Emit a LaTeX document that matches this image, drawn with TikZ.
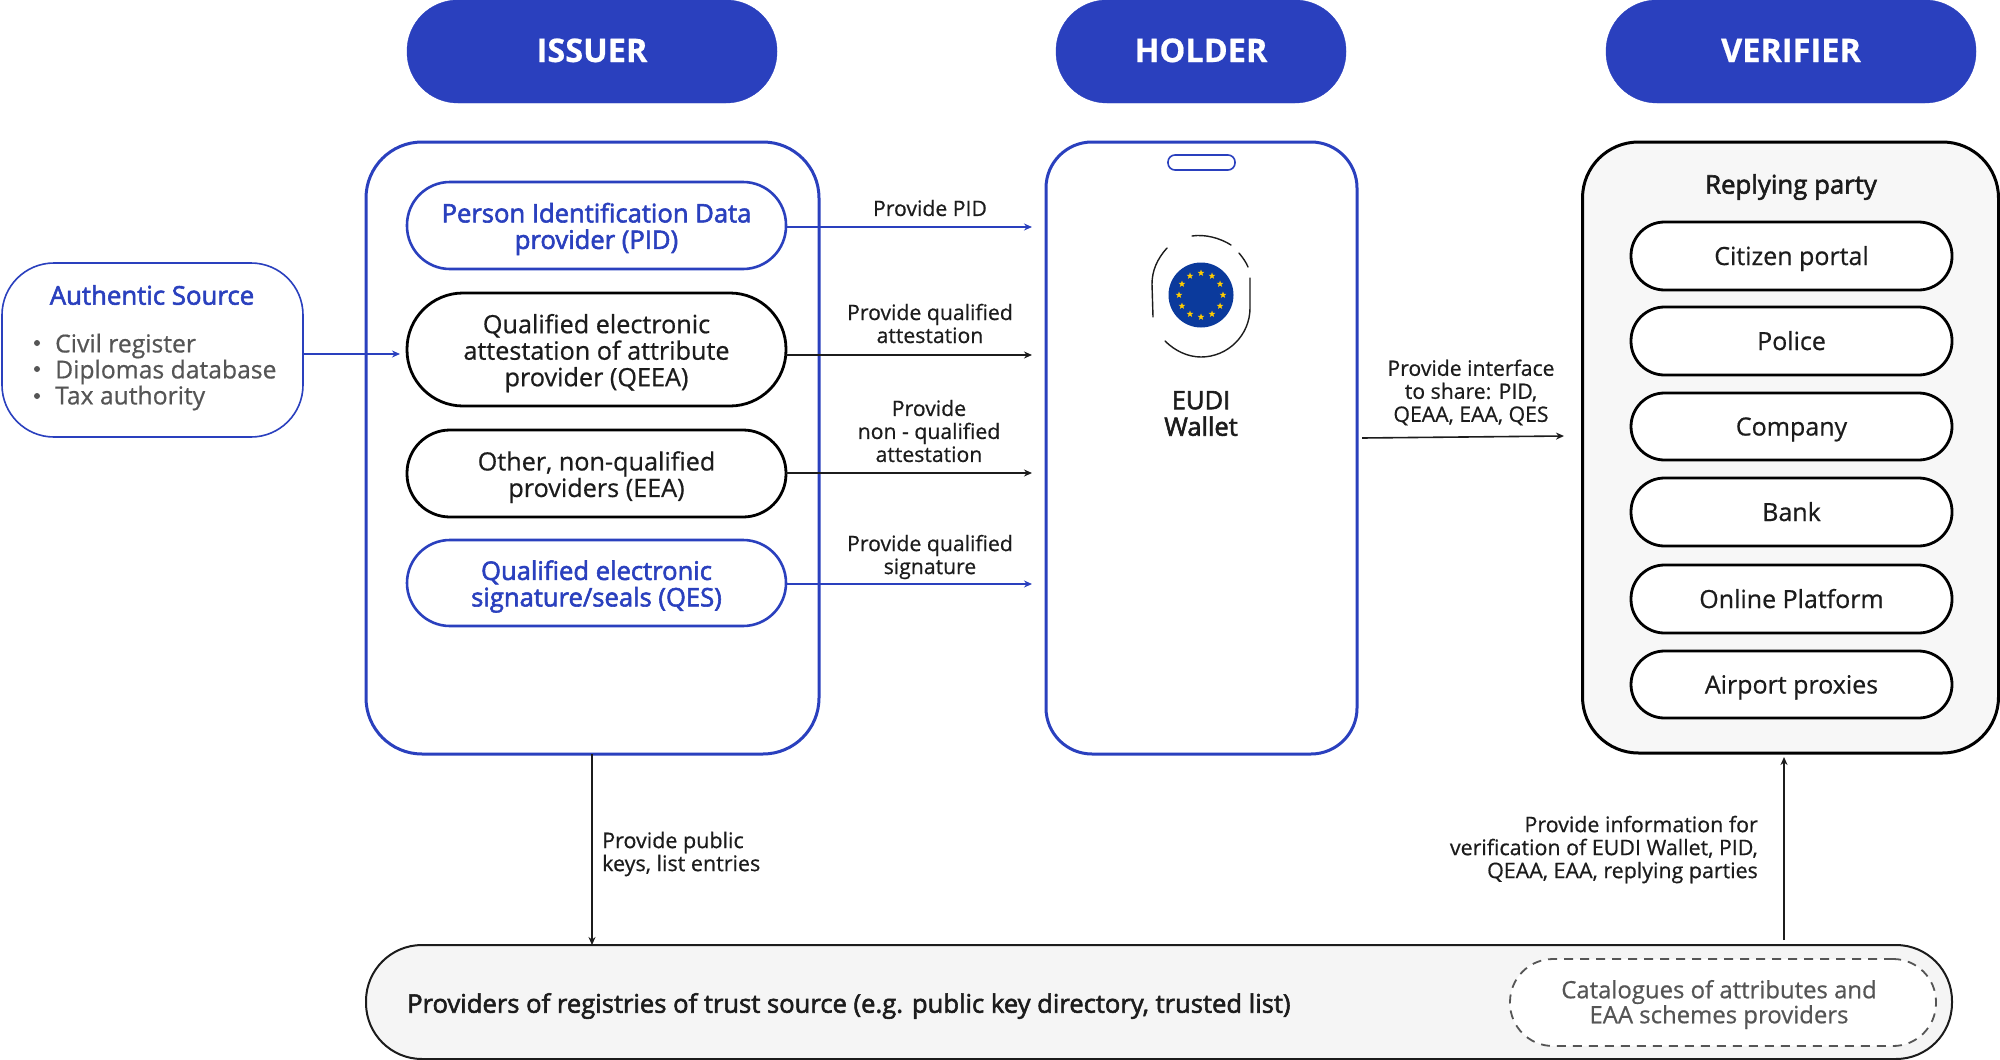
\documentclass[tikz,border=0pt]{standalone}
\usepackage{fontspec}
\setmainfont[FakeBold=0.6]{Open Sans}
\newfontfamily\semi[FakeBold=2.2]{Open Sans}
\usetikzlibrary{arrows.meta,shapes.geometric}
\definecolor{eblue}{HTML}{2A40BE}
\definecolor{ink}{HTML}{1C1C1C}
\definecolor{soft}{HTML}{555555}
\definecolor{flagblue}{HTML}{0B3A9C}
\definecolor{flagstar}{HTML}{FFCC00}
\newcommand{\fsl}[2]{\fontsize{#1pt}{#2pt}\selectfont}
\newcommand{\dn}{\rule{0pt}{26.5pt}}
\tikzset{
  x=1pt,y=-1pt,
  box/.style={draw,rectangle,rounded corners=#1,inner sep=0,outer sep=0},
  head/.style={box=51,fill=eblue,draw=eblue,text=white,font=\bfseries\fsl{32.5}{32.5},text height=21,text depth=0},
  frameb/.style={box=56,draw=eblue,line width=3,fill=white},
  bluepill/.style={box=43,draw=eblue,line width=2.6,fill=white,text=eblue,align=center,font=\semi\fsl{25.6}{26.5}},
  blackpill/.style={box=43,draw=black,line width=2.8,fill=white,text=ink,align=center,font=\fsl{25.2}{26.5}},
  vpill/.style={box=33.5,draw=black,line width=2.8,fill=white,text=ink,font=\fsl{25}{26.5},minimum width=321,minimum height=67,text height=18,text depth=0},
  lab/.style={text=ink,align=center,font=\fsl{21.2}{23},inner sep=0},
  barrow/.style={-{Stealth[length=8pt,width=7pt]},draw=eblue,line width=1.5},
  karrow/.style={-{Stealth[length=8pt,width=7pt]},draw=ink,line width=1.6},
}
\begin{document}
\begin{tikzpicture}
\useasboundingbox (0,0) rectangle (2000,1060);
\fill[white] (0,0) rectangle (2000,1060);
% headers
\node[head,minimum width=370,minimum height=103] (issuer) at (592,51.5) {ISSUER};
\node[head,minimum width=290,minimum height=103] (holder) at (1201,51.5) {HOLDER};
\node[head,minimum width=370,minimum height=103] (verifier) at (1791,51.5) {VERIFIER};
% frames
\node[frameb,minimum width=453,minimum height=612] (iframe) at (592.5,448) {};
\node[frameb,box=46,minimum width=311,minimum height=612] (wframe) at (1201.5,448) {};
\node[box=56,draw=black,line width=3,fill=black!3,minimum width=416,minimum height=611] (vframe) at (1790.5,447.5) {};
% authentic source
\node[box=52,draw=eblue,line width=1.6,fill=white,minimum width=301,minimum height=174] (auth) at (152.5,350) {};
\node[text=eblue,font=\semi\fsl{25.8}{26.5},inner sep=0] (authT) at (152,295) {Authentic Source};
\node[anchor=west,text=soft,font=\fsl{24.7}{26.5},inner sep=0] (a1) at (55,346) {Civil register};
\node[anchor=west,text=soft,font=\fsl{24.7}{26.5},inner sep=0] (a2) at (55,372) {Diplomas database};
\node[anchor=west,text=soft,font=\fsl{24.7}{26.5},inner sep=0] (a3) at (55,398) {Tax authority};
\foreach \n/\yy in {b1/343,b2/369,b3/396}
  \node[circle,fill=soft,inner sep=0,minimum size=6] (\n) at (37,\yy) {};
% issuer pills
\node[bluepill,minimum width=379,minimum height=87] (pid) at (596.5,225.5) {\dn Person Identification Data\\provider (PID)};
\node[blackpill,box=56,minimum width=379,minimum height=113] (qeea) at (596.5,349.5) {\dn Qualified electronic\\attestation of attribute\\provider (QEEA)};
\node[blackpill,minimum width=379,minimum height=87] (eea) at (596.5,473.5) {\dn Other, non-qualified\\providers (EEA)};
\node[bluepill,minimum width=379,minimum height=86] (qes) at (596.5,583) {\dn Qualified electronic\\signature/seals (QES)};
% wallet
\node[box=7,draw=eblue,line width=1.6,minimum width=67,minimum height=15] (speaker) at (1201.5,162.5) {};
\node[circle,fill=flagblue,inner sep=0,minimum size=65] (flag) at (1201,295) {};
\foreach \k in {0,30,...,330}
  \node[star,star points=5,star point ratio=2.4,fill=flagstar,inner sep=0,minimum size=7] (s\k) at ([shift={(\k:22)}]flag.center) {};
\draw[line width=1.4,ink,line cap=round]
  (1167,248) .. controls (1157,259) and (1152,271) .. (1152,284) -- (1153,317)
  (1192,236) .. controls (1205,234) and (1220,238) .. (1231,245)
  (1239,253) .. controls (1243,258) and (1246,262) .. (1248,267)
  (1250,278) -- (1250,308) .. controls (1250,335) and (1228,357) .. (1201,357) .. controls (1188,357) and (1175,351) .. (1165,341);
\node[text=ink,align=center,font=\semi\fsl{25.5}{26.5},inner sep=0] (eudi) at (1201,413.5) {EUDI\\Wallet};
% verifier
\node[text=ink,font=\semi\fsl{25.8}{26.5},inner sep=0] (rp) at (1791,187) {Replying party};
\node[vpill,minimum height=68] (v1) at (1791.5,256) {Citizen portal};
\node[vpill,minimum height=68] (v2) at (1791.5,341) {Police};
\node[vpill] (v3) at (1791.5,426.5) {Company};
\node[vpill,minimum height=68] (v4) at (1791.5,512) {Bank};
\node[vpill,minimum height=68] (v5) at (1791.5,599) {Online Platform};
\node[vpill,minimum height=67] (v6) at (1791.5,684.5) {Airport proxies};
% registry
\node[box=56,draw=ink,line width=2,fill=black!4,minimum width=1586,minimum height=114] (reg) at (1159,1002) {};
\node[anchor=west,text=ink,font=\semi\fsl{25.6}{26.5},inner sep=0] (regT) at (407,1006) {Providers of registries of trust source (e.g. public key directory, trusted list)};
\node[box=43,draw=soft,line width=1.8,dash pattern=on 9pt off 7pt,fill=white,minimum width=426,minimum height=87] (cat) at (1723,1002.5) {};
\node[text=soft,align=center,font=\fsl{23.9}{25},inner sep=0] (catT) at (1719,1004.5) {Catalogues of attributes and\\EAA schemes providers};
% connector ends
\coordinate (e1) at (1032,227);
\coordinate (e2) at (1032,355);
\coordinate (e3) at (1032,473);
\coordinate (e4) at (1032,584);
\coordinate (a0) at (400,354);
\coordinate (ws) at (1362,438);
\coordinate (ve) at (1564,436);
\coordinate (vu) at (1784,757);
\coordinate (rs) at (1784,940);
\draw[barrow] (auth.east |- a0) -- (a0);
\draw[barrow] (pid.east |- e1) -- (e1);
\draw[karrow] (qeea.east |- e2) -- (e2);
\draw[karrow] (eea.east |- e3) -- (e3);
\draw[barrow] (qes.east |- e4) -- (e4);
\draw[karrow] (ws) -- (ve);
\draw[karrow] ([xshift=-0.5pt]iframe.south) -- ([xshift=-0.5pt]iframe.south |- reg.north);
\draw[karrow] (rs) -- (vu);
% labels
\node[lab] (l1) at (930,208) {Provide PID};
\node[lab] (l2) at (930,323.5) {Provide qualified\\attestation};
\node[lab] (l3) at (929,431) {Provide\\non - qualified\\attestation};
\node[lab] (l4) at (930,557) {Provide qualified\\signature};
\node[lab] (l5) at (1471,392.5) {Provide interface\\to share: PID,\\QEAA, EAA, QES};
\node[lab,anchor=west,align=left,font=\fsl{21.5}{23}] (l6) at (602,854) {Provide public\\keys, list entries};
\node[lab,anchor=east,align=right,font=\fsl{21.4}{23}] (l7) at (1758,849.5) {Provide information for\\verification of EUDI Wallet, PID,\\QEAA, EAA, replying parties};
\end{tikzpicture}
\end{document}
